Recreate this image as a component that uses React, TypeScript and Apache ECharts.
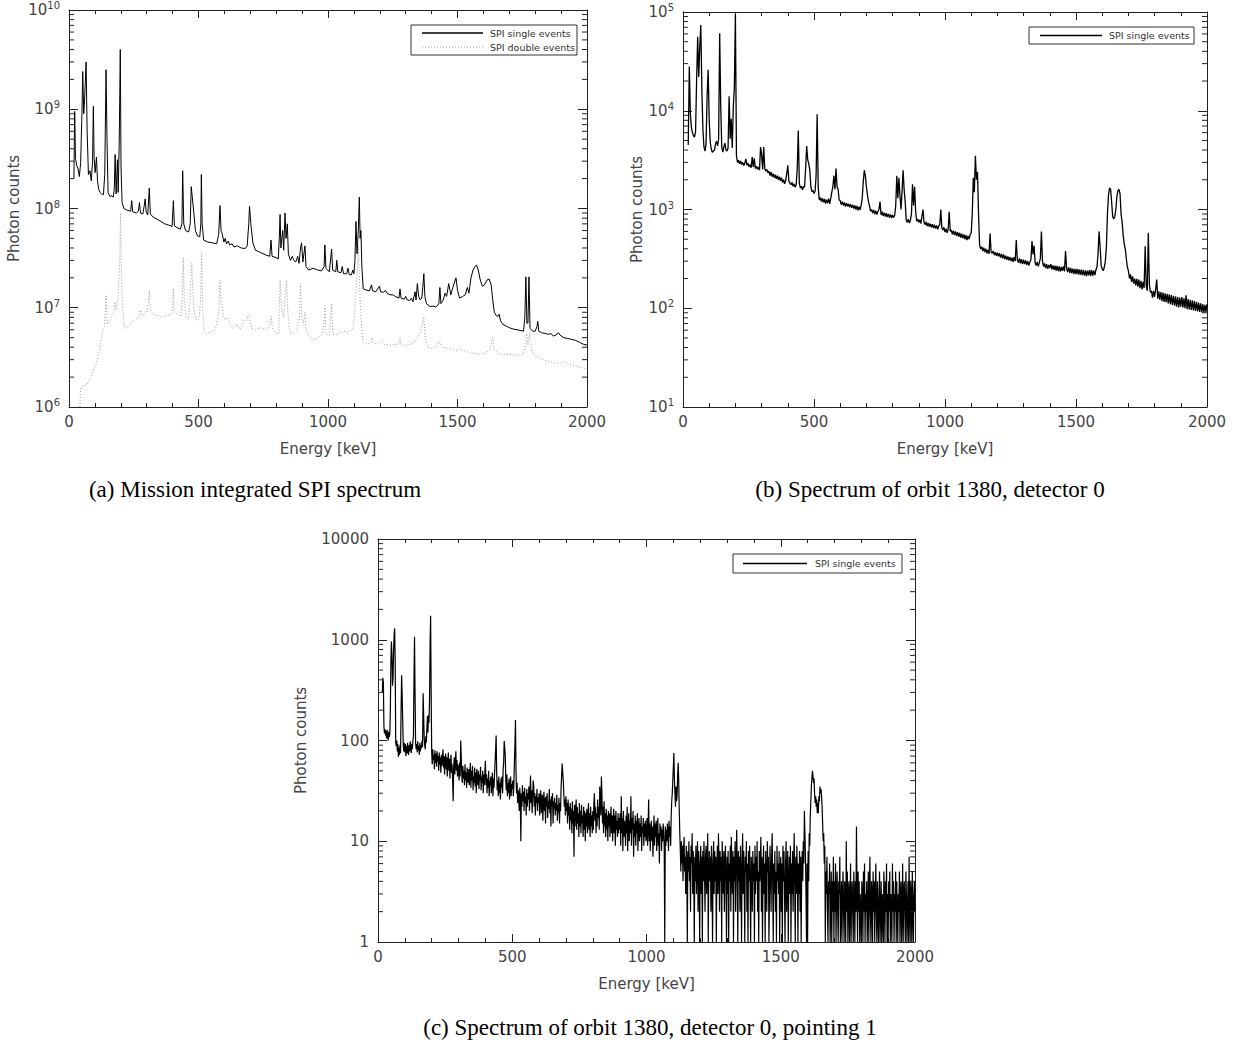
import React, { useEffect, useRef } from 'react';
import * as echarts from 'echarts';

// ---------- (a) Mission integrated SPI spectrum: [energy keV, counts] ----------
const aSingle: number[][] = [
  [19, 2.0e8], [22, 9.5e8], [25, 3.2e8], [30, 2.7e8], [35, 2.5e8], [40, 2.1e8], [45, 2.9e8], [50, 9e8], [53, 2.4e9], [57, 9e8],
  [61, 1.4e9], [66, 3.0e9], [70, 6e8], [75, 2.2e8], [81, 2.4e8], [86, 1.9e8], [91, 3e8], [94, 1.07e9], [97, 3.2e8], [101, 2.3e8],
  [106, 3.3e8], [110, 1.9e8], [115, 1.55e8], [120, 1.45e8], [126, 1.4e8], [133, 1.38e8], [138, 2.2e8], [143, 2.5e9], [147, 4.5e8], [151, 1.45e8],
  [158, 1.32e8], [165, 1.35e8], [171, 1.3e8], [175, 1.6e8], [178, 3.5e8], [182, 1.4e8], [187, 3.1e8], [190, 1.45e8], [194, 4.7e8], [198, 4.0e9],
  [201, 2.5e8], [205, 1.15e8], [212, 1.0e8], [225, 9.6e7], [238, 9.4e7], [242, 1.2e8], [246, 9.3e7], [260, 9.0e7], [268, 9.4e7], [272, 1.15e8],
  [276, 9.0e7], [285, 8.8e7], [290, 1.05e8], [294, 1.25e8], [298, 9.2e7], [304, 8.6e7], [310, 1.6e8], [314, 8.8e7], [325, 8.2e7], [340, 7.8e7],
  [355, 7.4e7], [370, 7.0e7], [385, 6.8e7], [398, 6.6e7], [403, 1.2e8], [407, 6.7e7], [418, 6.4e7], [430, 6.2e7], [436, 7.0e7], [439, 2.4e8],
  [443, 7.0e7], [450, 6.0e7], [462, 5.8e7], [468, 7.0e7], [472, 1.66e8], [476, 1.3e8], [482, 9.0e7], [488, 6.0e7], [496, 5.3e7], [505, 5.2e7],
  [509, 7.0e7], [511, 2.2e8], [514, 7.0e7], [520, 4.8e7], [535, 4.6e7], [555, 4.5e7], [570, 4.4e7], [578, 5.5e7], [583, 1.07e8], [587, 6.0e7],
  [592, 5.5e7], [598, 4.6e7], [603, 5.0e7], [608, 4.4e7], [615, 4.7e7], [620, 4.3e7], [630, 4.4e7], [637, 4.1e7], [650, 4.2e7], [665, 4.0e7],
  [680, 3.95e7], [688, 4.2e7], [694, 7.0e7], [697, 1.05e8], [702, 7.0e7], [710, 4.5e7], [720, 3.8e7], [740, 3.6e7], [760, 3.4e7], [775, 3.3e7],
  [780, 4.8e7], [784, 3.3e7], [800, 3.2e7], [808, 3.1e7], [812, 5.0e7], [815, 8.7e7], [818, 4.0e7], [825, 6.0e7], [829, 3.8e7], [834, 9.0e7],
  [838, 5.0e7], [843, 7.0e7], [847, 3.5e7], [855, 3.0e7], [862, 3.3e7], [868, 3.0e7], [876, 2.9e7], [883, 3.3e7], [888, 2.8e7], [894, 4.0e7],
  [898, 4.5e7], [903, 2.9e7], [911, 4.2e7], [915, 2.6e7], [925, 2.4e7], [943, 2.5e7], [960, 2.4e7], [975, 2.35e7], [985, 2.6e7], [988, 4.3e7],
  [992, 2.5e7], [1005, 2.3e7], [1014, 3.9e7], [1018, 2.4e7], [1030, 2.3e7], [1034, 3.0e7], [1038, 2.3e7], [1050, 2.25e7], [1055, 2.6e7], [1060, 2.2e7],
  [1072, 2.2e7], [1077, 2.5e7], [1082, 2.15e7], [1090, 2.14e7], [1096, 2.4e7], [1100, 2.2e7], [1104, 3.0e7], [1108, 7.4e7], [1112, 3.5e7], [1117, 6.0e7],
  [1121, 1.3e8], [1124, 5.0e7], [1127, 6.0e7], [1131, 2.5e7], [1136, 1.55e7], [1150, 1.5e7], [1160, 1.48e7], [1168, 1.7e7], [1172, 1.48e7], [1185, 1.45e7],
  [1192, 1.55e7], [1199, 1.65e7], [1203, 1.45e7], [1214, 1.43e7], [1222, 1.5e7], [1228, 1.4e7], [1240, 1.35e7], [1250, 1.35e7], [1260, 1.3e7], [1274, 1.25e7],
  [1278, 1.55e7], [1282, 1.25e7], [1295, 1.22e7], [1300, 1.3e7], [1306, 1.2e7], [1315, 1.18e7], [1322, 1.25e7], [1328, 1.15e7], [1336, 1.45e7], [1340, 1.2e7],
  [1345, 1.75e7], [1350, 1.3e7], [1356, 1.2e7], [1362, 1.25e7], [1366, 1.6e7], [1370, 2.2e7], [1374, 1.3e7], [1380, 1.1e7], [1394, 1.03e7], [1405, 1.04e7],
  [1415, 1.02e7], [1420, 1.03e7], [1428, 1.1e7], [1432, 1.6e7], [1436, 1.1e7], [1445, 1.2e7], [1452, 1.4e7], [1458, 1.3e7], [1466, 1.75e7], [1474, 1.35e7],
  [1482, 1.6e7], [1494, 2.0e7], [1500, 1.5e7], [1508, 1.25e7], [1520, 1.3e7], [1530, 1.35e7], [1538, 1.6e7], [1544, 1.4e7], [1552, 2.0e7], [1560, 2.4e7],
  [1568, 2.6e7], [1573, 2.7e7], [1580, 2.4e7], [1588, 1.9e7], [1596, 1.65e7], [1604, 1.7e7], [1614, 1.9e7], [1622, 1.95e7], [1630, 1.7e7], [1636, 1.2e7],
  [1642, 9.0e6], [1650, 8.3e6], [1656, 8.2e6], [1661, 8.6e6], [1666, 7.4e6], [1675, 6.8e6], [1690, 6.5e6], [1700, 6.3e6], [1715, 6.1e6], [1730, 6.0e6],
  [1745, 5.9e6], [1755, 5.8e6], [1760, 8.0e6], [1764, 2.05e7], [1768, 7.0e6], [1772, 7.0e6], [1776, 2.05e7], [1780, 6.2e6], [1790, 5.8e6], [1800, 5.8e6],
  [1807, 6.5e6], [1810, 7.3e6], [1814, 5.8e6], [1825, 5.6e6], [1840, 5.5e6], [1852, 5.4e6], [1860, 5.5e6], [1870, 5.2e6], [1880, 5.3e6], [1890, 5.6e6],
  [1896, 5.3e6], [1910, 5.0e6], [1925, 4.9e6], [1940, 4.8e6], [1955, 4.7e6], [1970, 4.5e6], [1985, 4.3e6], [2000, 4.2e6],
];

const aDouble: number[][] = [
  [42, 1.0e6], [44, 1.45e6], [48, 1.6e6], [60, 1.65e6], [75, 1.75e6], [90, 2.2e6], [107, 2.8e6], [120, 4e6], [130, 6e6], [136, 6.5e6],
  [140, 9e6], [143, 1.35e7], [147, 6.8e6], [152, 7.2e6], [158, 7.6e6], [166, 8.5e6], [172, 9e6], [178, 1.15e7], [182, 9.5e6], [188, 1.2e7],
  [192, 1.7e7], [196, 3e7], [199, 9e7], [202, 2.5e7], [207, 1e7], [212, 7e6], [216, 6.2e6], [230, 6.6e6], [245, 7.2e6], [257, 7.6e6],
  [268, 8e6], [276, 9.5e6], [282, 8.2e6], [290, 8.5e6], [300, 9e6], [306, 1.1e7], [310, 1.5e7], [314, 9.5e6], [325, 8.6e6], [340, 8.4e6],
  [355, 8e6], [370, 8.2e6], [385, 8.5e6], [395, 8.7e6], [400, 1.05e7], [403, 1.55e7], [406, 9e6], [420, 8.5e6], [432, 8.2e6], [437, 1.2e7],
  [441, 3.2e7], [445, 1.2e7], [452, 8e6], [462, 7.6e6], [468, 1.3e7], [474, 2.8e7], [478, 1.5e7], [484, 9e6], [492, 7.5e6], [502, 7.8e6],
  [508, 1.2e7], [512, 3.55e7], [516, 1.0e7], [522, 5.8e6], [530, 5.5e6], [545, 5.7e6], [558, 5.9e6], [570, 6.5e6], [578, 9e6], [583, 1.9e7],
  [588, 1.2e7], [595, 8.5e6], [603, 7.5e6], [612, 8e6], [620, 7e6], [634, 6.2e6], [648, 6.8e6], [660, 6e6], [675, 7.5e6], [686, 7.5e6],
  [692, 8.5e6], [697, 8e6], [705, 6.2e6], [720, 6e6], [740, 6.3e6], [760, 6e6], [775, 6.5e6], [780, 8.2e6], [786, 6.2e6], [800, 5.5e6],
  [810, 5.5e6], [815, 1.9e7], [820, 1.0e7], [828, 8e6], [834, 1.2e7], [840, 1.9e7], [845, 9e6], [853, 5.5e6], [868, 5.5e6], [880, 6e6],
  [890, 8e6], [894, 1.75e7], [898, 8e6], [905, 7e6], [911, 9e6], [915, 6e6], [930, 5e6], [943, 4.8e6], [960, 4.9e6], [975, 5.3e6],
  [985, 7e6], [988, 1.05e7], [992, 5.5e6], [1005, 5.2e6], [1014, 1.1e7], [1018, 5.4e6], [1030, 5.3e6], [1045, 5.6e6], [1060, 5.8e6], [1075, 5.7e6],
  [1085, 5.8e6], [1095, 6.2e6], [1100, 7.5e6], [1105, 1.1e7], [1110, 1.8e7], [1114, 2.5e7], [1117, 4.2e7], [1121, 2.0e7], [1126, 9e6], [1131, 6e6],
  [1136, 4.5e6], [1150, 4.3e6], [1165, 4.4e6], [1170, 5e6], [1175, 4.4e6], [1190, 4.3e6], [1210, 4.8e6], [1215, 4.3e6], [1240, 4.2e6], [1260, 4.3e6],
  [1270, 4.2e6], [1278, 5.0e6], [1283, 4.2e6], [1300, 4.2e6], [1320, 4.3e6], [1335, 4.5e6], [1345, 5.0e6], [1355, 5.5e6], [1365, 7e6], [1370, 8.1e6],
  [1375, 5e6], [1385, 4.0e6], [1400, 3.9e6], [1420, 4.1e6], [1432, 4.6e6], [1440, 4.0e6], [1465, 3.9e6], [1480, 3.8e6], [1500, 3.7e6], [1510, 3.85e6],
  [1536, 3.6e6], [1550, 3.5e6], [1570, 3.45e6], [1590, 3.4e6], [1610, 3.5e6], [1625, 3.8e6], [1636, 5e6], [1642, 3.8e6], [1655, 3.5e6], [1670, 3.4e6],
  [1691, 3.4e6], [1710, 3.35e6], [1730, 3.35e6], [1754, 3.4e6], [1762, 4.2e6], [1767, 5.5e6], [1772, 4.2e6], [1779, 5.7e6], [1785, 3.8e6], [1795, 3.3e6],
  [1810, 3.2e6], [1830, 3.0e6], [1850, 2.9e6], [1870, 2.8e6], [1896, 2.75e6], [1915, 2.9e6], [1930, 2.7e6], [1950, 2.6e6], [1975, 2.5e6], [2000, 2.4e6],
];

// ---------- (b) orbit 1380, detector 0: 4 keV channels, 25 per row (100 keV) ----------
const bChannelKeV = 4;
const bCounts: (number | null)[] = [
  null, null, null, null, null, 4500, 28000, 9500, 6800, 6000, 5600, 5400, 6200, 21000, 56000, 22000, 45000, 74000, 16000, 6500, 4300, 3900, 4600, 14000, 26000,
  8000, 4800, 4100, 3800, 3900, 4000, 4600, 4900, 4400, 5200, 61000, 11000, 4300, 3800, 4300, 4700, 4000, 3900, 4200, 14000, 5200, 8300, 4200, 11000, 17000,
  95000, 3500, 3000, 3150, 2900, 3100, 2850, 3000, 2780, 2950, 3250, 2800, 2950, 2700, 2850, 2650, 3400, 2700, 3300, 2600, 2750, 2550, 2700, 2500, 4300,
  3600, 2550, 4300, 2600, 2450, 2550, 2350, 2450, 2200, 2400, 2150, 2300, 2100, 2250, 2050, 2200, 2000, 2150, 1950, 2100, 1880, 2000, 1820, 1980, 2300,
  2800, 1950, 1850, 1780, 1880, 1720, 1820, 1680, 1780, 2600, 6300, 1850, 1650, 1720, 1580, 1700, 1700, 2600, 4400, 3200, 2900, 2500, 1700, 1520, 1560,
  1450, 1520, 2200, 9200, 1700, 1250, 1320, 1200, 1300, 1180, 1280, 1150, 1260, 1160, 1290, 1140, 1300, 1500, 1700, 2200, 1600, 2600, 1700, 1600, 1250,
  1230, 1120, 1200, 1100, 1180, 1070, 1160, 1080, 1140, 1050, 1130, 1040, 1110, 1020, 1100, 1000, 1090, 980, 1070, 990, 1100, 1300, 1900, 2500, 2200,
  1700, 1400, 1200, 1080, 960, 1000, 920, 990, 900, 970, 890, 960, 1000, 1200, 880, 950, 860, 930, 850, 920, 840, 900, 830, 890, 820,
  880, 830, 870, 1100, 2200, 1300, 2100, 1400, 1000, 1500, 2500, 1600, 1200, 780, 740, 800, 730, 780, 900, 1800, 1100, 1700, 950, 760, 800,
  740, 790, 720, 850, 1000, 740, 700, 750, 680, 730, 670, 720, 660, 710, 650, 700, 640, 690, 630, 680, 700, 1000, 650, 620, 660,
  590, 640, 580, 630, 950, 600, 620, 560, 610, 550, 600, 540, 590, 530, 580, 520, 570, 510, 560, 500, 550, 490, 540, 500, 560,
  580, 900, 2100, 1500, 3500, 2000, 2400, 900, 440, 400, 420, 380, 410, 370, 400, 360, 390, 355, 570, 370, 360, 380, 345, 370, 340,
  365, 335, 360, 325, 355, 320, 350, 315, 340, 310, 335, 305, 330, 300, 325, 295, 330, 300, 490, 310, 290, 320, 285, 315, 280,
  310, 280, 305, 275, 300, 270, 295, 310, 480, 350, 430, 290, 270, 295, 265, 290, 320, 600, 300, 265, 285, 255, 280, 250, 275,
  255, 280, 248, 272, 245, 270, 240, 268, 238, 265, 235, 262, 240, 265, 236, 380, 255, 232, 260, 228, 256, 225, 252, 222, 250,
  222, 250, 220, 248, 218, 246, 216, 244, 214, 242, 212, 240, 215, 245, 212, 244, 214, 240, 216, 245, 260, 350, 600, 420, 270,
  250, 240, 260, 300, 420, 900, 1400, 1650, 1600, 1200, 850, 800, 850, 1000, 1350, 1550, 1600, 1450, 900, 750, 550, 450, 400, 320, 260,
  240, 200, 220, 185, 210, 178, 200, 170, 198, 165, 195, 160, 190, 155, 185, 160, 425, 170, 150, 580, 175, 145, 150, 128, 150,
  130, 155, 195, 125, 148, 122, 146, 118, 144, 116, 142, 115, 140, 112, 138, 110, 136, 108, 134, 106, 132, 104, 130, 102, 128,
  104, 130, 102, 126, 100, 135, 98, 124, 97, 122, 96, 120, 95, 118, 94, 116, 93, 114, 92, 112, 91, 110, 90, 108, 92,
  110,
];

// ---------- (c) orbit 1380, detector 0, pointing 1: 2 keV channels, 50 per row (100 keV) ----------
// zero-count channels are drawn on the axis floor (1)
const cChannelKeV = 2;
const cCounts: (number | null)[] = [
  null, null, null, null, null, null, null, null, 300, 420, 380, 140, 118, 130, 112, 125, 105, 128, 110, 100, 122, 108, 115, 200, 600,
  960, 700, 350, 420, 750, 1100, 1300, 600, 95, 88, 100, 78, 92, 69, 85, 72, 90, 75, 200, 445, 280, 160, 90, 78, 95,
  76, 92, 70, 88, 74, 95, 80, 72, 90, 78, 98, 84, 75, 93, 82, 100, 110, 400, 1070, 300, 95, 82, 92, 76, 98,
  80, 88, 72, 95, 78, 90, 84, 100, 86, 295, 180, 105, 90, 82, 110, 95, 130, 175, 120, 180, 150, 260, 900, 1730, 300,
  76, 58, 82, 64, 72, 52, 80, 60, 74, 55, 78, 62, 70, 50, 76, 58, 68, 48, 72, 56, 66, 82, 54, 70, 46,
  64, 74, 52, 68, 44, 62, 76, 50, 66, 42, 60, 72, 48, 58, 40, 25, 56, 68, 46, 60, 78, 50, 64, 44, 58,
  52, 40, 60, 44, 100, 70, 46, 38, 56, 42, 50, 36, 58, 40, 48, 34, 54, 44, 38, 52, 36, 46, 60, 34, 50,
  40, 56, 32, 44, 38, 54, 35, 48, 30, 52, 42, 36, 50, 33, 46, 40, 55, 32, 44, 38, 50, 30, 46, 36, 48,
  63, 36, 46, 30, 42, 34, 50, 28, 40, 36, 44, 30, 38, 48, 28, 42, 34, 46, 60, 80, 112, 48, 32, 40, 28,
  44, 30, 38, 26, 42, 34, 44, 30, 52, 60, 99, 85, 70, 40, 32, 46, 28, 38, 30, 42, 26, 36, 44, 28, 37,
  33, 40, 28, 36, 60, 90, 160, 50, 30, 38, 24, 32, 28, 20, 34, 26, 10, 30, 22, 36, 25, 31, 20, 34, 24,
  28, 18, 33, 22, 30, 26, 35, 20, 29, 45, 24, 32, 19, 27, 40, 35, 22, 30, 18, 28, 24, 33, 20, 27, 24,
  30, 18, 26, 32, 19, 25, 29, 16, 24, 31, 20, 27, 15, 28, 22, 30, 17, 25, 21, 33, 19, 26, 14, 28, 22,
  30, 15, 25, 21, 27, 18, 24, 20, 29, 16, 23, 19, 27, 15, 24, 20, 35, 45, 59, 48, 40, 30, 22, 26, 18,
  28, 20, 24, 15, 26, 18, 22, 13, 24, 16, 21, 12, 25, 15, 20, 7, 23, 14, 19, 26, 13, 22, 15, 19, 11,
  24, 14, 20, 12, 23, 15, 18, 11, 22, 13, 20, 10, 19, 14, 21, 12, 17, 24, 13, 19, 11, 22, 14, 18, 12,
  20, 13, 24, 30, 16, 22, 12, 19, 14, 26, 17, 22, 13, 35, 25, 18, 44, 30, 15, 22, 12, 25, 14, 19, 11,
  21, 13, 18, 10, 20, 14, 19, 11, 17, 22, 12, 18, 10, 16, 21, 12, 18, 9, 20, 13, 16, 11, 19, 12, 17,
  13, 19, 9, 28, 12, 17, 8, 20, 11, 16, 14, 9, 18, 12, 22, 8, 15, 19, 10, 16, 12, 28, 9, 17, 13,
  20, 7, 15, 11, 18, 9, 16, 12, 19, 8, 14, 17, 10, 15, 11, 18, 8, 14, 12, 17, 9, 15, 11, 16, 10,
  12, 17, 9, 14, 26, 10, 15, 8, 13, 16, 10, 14, 7, 12, 18, 9, 15, 11, 16, 8, 13, 17, 9, 12, 6,
  15, 11, 14, 8, 13, 10, 15, 12, 9, 1, 14, 9, 13, 10, 15, 12, 8, 16, 11, 14, 9, 18, 25, 30, 40,
  55, 75, 40, 30, 22, 35, 25, 28, 45, 60, 40, 20, 12, 8, 5, 10, 6, 9, 4, 8, 11, 5, 7, 3, 9,
  6, 1, 8, 5, 10, 4, 7, 2, 9, 6, 12, 3, 8, 5, 1, 7, 4, 9, 3, 6, 10, 2, 8, 5, 1,
  6, 9, 3, 7, 1, 8, 4, 10, 5, 2, 7, 9, 3, 6, 12, 1, 5, 8, 4, 7, 2, 9, 5, 1, 6,
  10, 3, 8, 4, 7, 1, 5, 9, 3, 12, 6, 2, 8, 4, 7, 1, 10, 5, 3, 8, 2, 6, 9, 4, 1,
  7, 3, 8, 1, 6, 4, 9, 2, 11, 5, 3, 8, 1, 7, 4, 10, 2, 6, 13, 5, 1, 8, 4, 7, 2,
  9, 5, 1, 6, 12, 3, 8, 4, 1, 7, 5, 10, 2, 6, 1, 8, 4, 9, 3, 1, 7, 5, 2, 8, 4,
  6, 1, 9, 3, 7, 4, 10, 2, 5, 1, 8, 4, 6, 11, 2, 7, 1, 5, 9, 3, 6, 1, 8, 4, 2,
  10, 5, 7, 1, 3, 9, 5, 2, 7, 12, 4, 1, 6, 3, 8, 2, 5, 1, 9, 4, 6, 3, 8, 1, 5,
  7, 2, 6, 1, 9, 4, 8, 3, 1, 6, 10, 2, 5, 8, 1, 4, 7, 3, 9, 1, 6, 3, 8, 2, 5,
  12, 4, 1, 7, 3, 9, 5, 1, 6, 3, 8, 2, 7, 1, 5, 8, 4, 10, 6, 20, 12, 7, 3, 1, 6,
  1, 8, 4, 12, 9, 18, 25, 35, 42, 50, 45, 38, 42, 30, 24, 28, 22, 26, 19, 24, 19, 28, 25, 35, 30,
  33, 28, 22, 15, 10, 12, 6, 9, 1, 5, 3, 7, 2, 1, 4, 3, 6, 1, 2, 5, 1, 4, 2, 7, 1,
  4, 2, 6, 1, 3, 5, 2, 1, 4, 3, 7, 1, 2, 4, 1, 3, 5, 2, 1, 4, 3, 1, 10, 2, 5,
  1, 3, 4, 1, 2, 6, 1, 3, 4, 2, 1, 5, 3, 1, 4, 2, 14, 3, 1, 5, 2, 4, 1, 3, 2,
  1, 4, 3, 1, 5, 2, 6, 1, 3, 2, 4, 1, 2, 5, 1, 3, 7, 2, 1, 4, 3, 1, 5, 2, 4,
  1, 3, 6, 2, 1, 4, 2, 1, 3, 5, 1, 2, 4, 1, 3, 2, 1, 5, 3, 1, 4, 2, 6, 1, 3,
  1, 4, 2, 5, 1, 3, 2, 1, 6, 2, 4, 1, 3, 2, 5, 1, 4, 2, 1, 3, 2, 5, 1, 3, 4,
  1, 2, 6, 1, 3, 4, 2, 1, 5, 3, 1, 2, 4, 1, 7, 2, 1, 4, 3, 1, 5, 2, 1, 3, 4,
  2,
];

const aYRange = [1e6, 1e10];
const bYRange = [1e1, 1e5];
const cYRange = [1, 1e4];
const xRange = [0, 2000];
const xMajorStep = 500;
const xMinorSplit = 5;

const captions = [
  '(a) Mission integrated SPI spectrum',
  '(b) Spectrum of orbit 1380, detector 0',
  '(c) Spectrum of orbit 1380, detector 0, pointing 1',
];
const legendSingle = 'SPI single events';
const legendDouble = 'SPI double events';
const xName = 'Energy [keV]';
const yName = 'Photon counts';

const SANS = 'DejaVu Sans';
const AXIS_COLOR = '#222';
const LABEL_COLOR = '#444';

function channelsToPairs(counts: (number | null)[], width: number) {
  return counts.map((v, i) => [i * width, v]);
}

function minorLogTicks(range: number[]) {
  const out: number[][] = [];
  const lo = Math.round(Math.log10(range[0]));
  const hi = Math.round(Math.log10(range[1]));
  for (let d = lo; d < hi; d++) {
    for (let k = 2; k <= 9; k++) out.push([xRange[0], k * Math.pow(10, d)]);
  }
  return out;
}

const powLabel = (v: number) => '10{s|' + Math.round(Math.log10(v)) + '}';
const plainLabel = (v: number) => String(Math.round(v));

export default function App() {
  const ref = useRef<HTMLDivElement>(null);

  useEffect(() => {
    if (!ref.current) return;
    const chart = echarts.init(ref.current, undefined, { renderer: 'svg' });

    const grids = [
      { left: 69, top: 10, width: 518, height: 397 },
      { left: 683, top: 12, width: 524, height: 395 },
      { left: 378, top: 539, width: 537, height: 403 },
    ];
    const yRanges = [aYRange, bYRange, cYRange];
    const yFormatters = [powLabel, powLabel, plainLabel];
    const yNameGaps = [48, 38, 70];

    const xAxes: any[] = [];
    const yAxes: any[] = [];
    grids.forEach((_, g) => {
      const baseX = {
        type: 'value',
        gridIndex: g,
        min: xRange[0],
        max: xRange[1],
        interval: xMajorStep,
        axisLine: { show: true, onZero: false, lineStyle: { color: AXIS_COLOR, width: 1 } },
        axisTick: { show: true, inside: true, length: 8, lineStyle: { color: AXIS_COLOR } },
        minorTick: { show: true, splitNumber: xMinorSplit, length: 4, lineStyle: { color: AXIS_COLOR } },
        splitLine: { show: false },
        minorSplitLine: { show: false },
      };
      xAxes.push({
        ...baseX,
        position: 'bottom',
        axisLabel: { color: LABEL_COLOR, fontSize: 15, fontFamily: SANS, margin: 7, formatter: plainLabel },
        name: xName,
        nameLocation: 'middle',
        nameGap: 34,
        nameTextStyle: { color: LABEL_COLOR, fontSize: 15, fontFamily: SANS },
      });
      xAxes.push({ ...baseX, position: 'top', axisLabel: { show: false } });

      const baseY = {
        type: 'log',
        logBase: 10,
        gridIndex: g,
        min: yRanges[g][0],
        max: yRanges[g][1],
        axisLine: { show: true, onZero: false, lineStyle: { color: AXIS_COLOR, width: 1 } },
        axisTick: { show: true, inside: true, length: 9, lineStyle: { color: AXIS_COLOR } },
        splitLine: { show: false },
      };
      yAxes.push({
        ...baseY,
        position: 'left',
        axisLabel: {
          color: LABEL_COLOR,
          fontSize: 15,
          fontFamily: SANS,
          margin: 9,
          formatter: yFormatters[g],
          rich: {
            s: { fontSize: 10, fontFamily: SANS, color: LABEL_COLOR, verticalAlign: 'top', padding: [0, 0, 9, 0] },
          },
        },
        name: yName,
        nameLocation: 'middle',
        nameGap: yNameGaps[g],
        nameRotate: 90,
        nameTextStyle: { color: LABEL_COLOR, fontSize: 15, fontFamily: SANS },
      });
      yAxes.push({ ...baseY, position: 'right', axisLabel: { show: false } });
    });

    const lineSeries = (data: any[], g: number, color: string, width: number, dotted = false) => ({
      type: 'line',
      xAxisIndex: g * 2,
      yAxisIndex: g * 2,
      data,
      showSymbol: false,
      symbol: 'none',
      connectNulls: false,
      lineStyle: { color, width, type: dotted ? [1, 2] : 'solid' },
      silent: true,
      z: 3,
    });

    const tickSeries = (g: number) => ({
      type: 'custom',
      xAxisIndex: g * 2,
      yAxisIndex: g * 2,
      data: minorLogTicks(yRanges[g]),
      silent: true,
      clip: false,
      z: 5,
      renderItem: (_p: any, api: any) => {
        const v = api.value(1);
        const l = api.coord([xRange[0], v]);
        const r = api.coord([xRange[1], v]);
        const st = { stroke: AXIS_COLOR, lineWidth: 1 };
        return {
          type: 'group',
          children: [
            { type: 'line', shape: { x1: l[0], y1: l[1], x2: l[0] + 5, y2: l[1] }, style: st },
            { type: 'line', shape: { x1: r[0] - 5, y1: r[1], x2: r[0], y2: r[1] }, style: st },
          ],
        };
      },
    });

    const legendBox = (x: number, y: number, w: number, h: number) => ({
      type: 'rect',
      shape: { x, y, width: w, height: h },
      style: { fill: '#fff', stroke: '#333', lineWidth: 1 },
      z: 10,
    });
    const legendLine = (x1: number, x2: number, y: number, color: string, dash?: number[]) => ({
      type: 'line',
      shape: { x1, y1: y, x2, y2: y },
      style: { stroke: color, lineWidth: dash ? 1 : 1.3, lineDash: dash },
      z: 11,
    });
    const legendText = (x: number, y: number, text: string) => ({
      type: 'text',
      x,
      y,
      style: { text, fontSize: 9.5, fontFamily: SANS, fill: '#333', verticalAlign: 'middle', textAlign: 'left' },
      z: 11,
    });
    const caption = (x: number, y: number, text: string) => ({
      type: 'text',
      x,
      y,
      style: { text, fontSize: 23, fontFamily: 'Liberation Serif', fill: '#000', textAlign: 'center', verticalAlign: 'middle' },
    });

    chart.setOption({
      animation: false,
      backgroundColor: '#fff',
      grid: grids,
      xAxis: xAxes,
      yAxis: yAxes,
      series: [
        lineSeries(aDouble, 0, '#9a9a9a', 1, true),
        lineSeries(aSingle, 0, '#000', 1),
        lineSeries(channelsToPairs(bCounts, bChannelKeV), 1, '#000', 1.3),
        lineSeries(channelsToPairs(cCounts, cChannelKeV), 2, '#000', 1.2),
        tickSeries(0),
        tickSeries(1),
        tickSeries(2),
      ],
      graphic: [
        legendBox(411, 25, 166, 30),
        legendLine(422, 483, 33, '#000'),
        legendText(490, 33, legendSingle),
        legendLine(422, 483, 47, '#9a9a9a', [1, 2]),
        legendText(490, 47, legendDouble),
        legendBox(1029, 27, 165, 17),
        legendLine(1040, 1102, 35.5, '#000'),
        legendText(1109, 35.5, legendSingle),
        legendBox(733, 554, 169, 19),
        legendLine(743, 807, 563.5, '#000'),
        legendText(815, 563.5, legendSingle),
        caption(255, 489, captions[0]),
        caption(930, 489, captions[1]),
        caption(650, 1027, captions[2]),
      ],
    });

    return () => chart.dispose();
  }, []);

  return (
    <div
      ref={ref}
      style={{ position: 'absolute', left: 0, top: 0, width: 1242, height: 1042, background: '#fff' }}
    />
  );
}
